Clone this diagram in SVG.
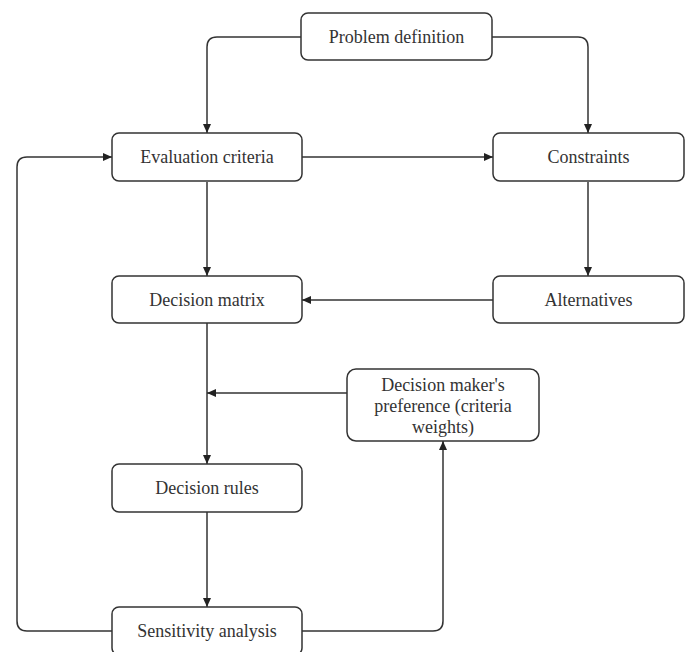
<svg xmlns="http://www.w3.org/2000/svg" width="686" height="652" viewBox="0 0 686 652">
<style>
.box{fill:#fff;stroke:#333;stroke-width:1.5}
.lbl{font-family:"Liberation Serif","Times New Roman",serif;font-size:18px;fill:#333;text-anchor:middle}
.con{fill:none;stroke:#333;stroke-width:1.5}
</style>
<defs>
<marker id="ah" markerUnits="userSpaceOnUse" markerWidth="10" markerHeight="8" refX="9" refY="4" orient="auto">
<path d="M0,0 L9,4 L0,8 z" fill="#222"/>
</marker>
</defs>
<rect width="686" height="652" fill="#fff"/>
<g id="connectors">
<path class="con" d="M301,37 H217 Q207,37 207,47 V133" marker-end="url(#ah)"/>
<path class="con" d="M492,37 H578 Q588,37 588,47 V133" marker-end="url(#ah)"/>
<path class="con" d="M302,157 H493" marker-end="url(#ah)"/>
<path class="con" d="M207,182 V276" marker-end="url(#ah)"/>
<path class="con" d="M588,182 V276" marker-end="url(#ah)"/>
<path class="con" d="M493,300 H302" marker-end="url(#ah)"/>
<path class="con" d="M207,323 V464" marker-end="url(#ah)"/>
<path class="con" d="M347,393 H207" marker-end="url(#ah)"/>
<path class="con" d="M207,512 V607" marker-end="url(#ah)"/>
<path class="con" d="M112,631 H27 Q17,631 17,621 V167 Q17,157 27,157 H112" marker-end="url(#ah)"/>
<path class="con" d="M302,631 H433 Q443,631 443,621 V441" marker-end="url(#ah)"/>
</g>
<g id="problem-definition"><rect class="box" x="301" y="13" width="191" height="47" rx="7"/><text class="lbl" x="396.5" y="43">Problem definition</text></g>
<g id="evaluation-criteria"><rect class="box" x="112" y="133" width="190" height="48" rx="7"/><text class="lbl" x="207" y="163">Evaluation criteria</text></g>
<g id="constraints"><rect class="box" x="493" y="133" width="191" height="48" rx="7"/><text class="lbl" x="588.5" y="163">Constraints</text></g>
<g id="decision-matrix"><rect class="box" x="112" y="276" width="190" height="47" rx="7"/><text class="lbl" x="207" y="306">Decision matrix</text></g>
<g id="alternatives"><rect class="box" x="493" y="276" width="191" height="47" rx="7"/><text class="lbl" x="588.5" y="306">Alternatives</text></g>
<g id="preference"><rect class="box" x="347" y="369" width="192" height="72" rx="9"/><text class="lbl" x="443" y="391">Decision maker's</text><text class="lbl" x="443" y="412">preference (criteria</text><text class="lbl" x="443" y="433">weights)</text></g>
<g id="decision-rules"><rect class="box" x="112" y="464" width="190" height="48" rx="7"/><text class="lbl" x="207" y="494">Decision rules</text></g>
<g id="sensitivity-analysis"><rect class="box" x="112" y="607" width="190" height="48" rx="7"/><text class="lbl" x="207" y="637">Sensitivity analysis</text></g>
</svg>
